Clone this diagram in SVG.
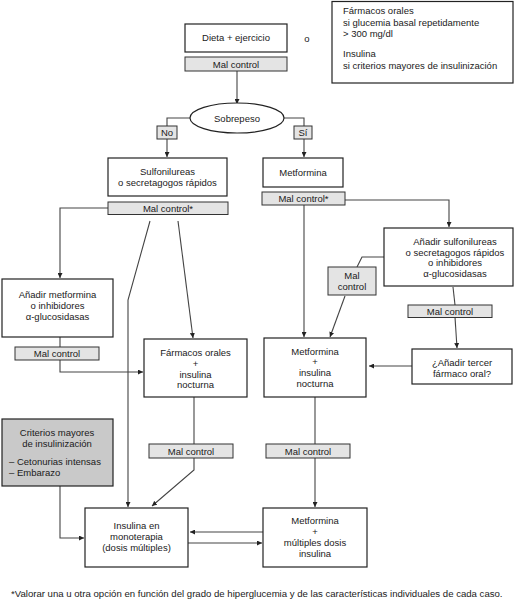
<svg xmlns="http://www.w3.org/2000/svg" width="515" height="600" viewBox="0 0 515 600">
<style>
text{font-family:"Liberation Sans",Arial,sans-serif;font-size:9.5px;fill:#1a1a1a;text-anchor:middle}
.l{text-anchor:start}
.box{fill:#fff;stroke:#222;stroke-width:1.2}
.mc{fill:#e4e4e4;stroke:#333;stroke-width:1}
.dk{fill:#c9c9c9;stroke:#222;stroke-width:1.2}
.c{fill:none;stroke:#444;stroke-width:1.1}
.fn{font-size:9.6px}
</style>
<defs>
<marker id="a" viewBox="0 0 10 10" refX="10" refY="5" markerWidth="5" markerHeight="5" orient="auto" markerUnits="userSpaceOnUse">
<path d="M0,0 L10,5 L0,10 z" fill="#222"/>
</marker>
</defs>
<g id="connectors">
<path class="c" d="M237,71 V104" marker-end="url(#a)"/>
<path class="c" d="M190,118 H167 V157" marker-end="url(#a)"/>
<path class="c" d="M284,118 H304 V157" marker-end="url(#a)"/>
<path class="c" d="M108,208 H60 V278" marker-end="url(#a)"/>
<path class="c" d="M150,221 L128,300 V507" marker-end="url(#a)"/>
<path class="c" d="M178,221 L193,338" marker-end="url(#a)"/>
<path class="c" d="M60,337 V347"/>
<path class="c" d="M60,360 V372 H143" marker-end="url(#a)"/>
<path class="c" d="M345,200 H449 V227" marker-end="url(#a)"/>
<path class="c" d="M304,205 V337" marker-end="url(#a)"/>
<path class="c" d="M384,257 H362 L357,267"/>
<path class="c" d="M345,296 L330,337" marker-end="url(#a)"/>
<path class="c" d="M453,287 L455,305"/>
<path class="c" d="M455,317 L457,348" marker-end="url(#a)"/>
<path class="c" d="M412,366 H369" marker-end="url(#a)"/>
<path class="c" d="M194,397 V444"/>
<path class="c" d="M194,458 V470 L152,506" marker-end="url(#a)"/>
<path class="c" d="M315,397 V444"/>
<path class="c" d="M315,458 V507" marker-end="url(#a)"/>
<path class="c" d="M60,486 V538 H84" marker-end="url(#a)"/>
<path class="c" d="M263,532 H190" marker-end="url(#a)"/>
<path class="c" d="M188,543 H262" marker-end="url(#a)"/>
</g>
<g id="dieta"><rect class="box" x="185" y="24" width="102" height="28"/><text x="236" y="41">Dieta + ejercicio</text></g>
<g id="mc-top"><rect class="mc" x="185" y="57" width="102" height="14"/><text x="236" y="67.5">Mal control</text></g>
<g id="o"><text x="307" y="42">o</text></g>
<g id="alt">
<rect class="box" x="332" y="1.5" width="181" height="81.5"/>
<text class="l" x="343" y="14">Fármacos orales</text>
<text class="l" x="343" y="26">si glucemia basal repetidamente</text>
<text class="l" x="343" y="37">&gt; 300 mg/dl</text>
<text class="l" x="343" y="57">Insulina</text>
<text class="l" x="343" y="69">si criterios mayores de insulinización</text>
</g>
<g id="sobrepeso"><ellipse cx="237" cy="118" rx="47" ry="15" fill="#fff" stroke="#222" stroke-width="1.2"/><text x="237" y="121.5">Sobrepeso</text></g>
<g id="no"><rect class="mc" x="157" y="126" width="20" height="13"/><text x="167" y="136">No</text></g>
<g id="si"><rect class="mc" x="294" y="126" width="18" height="13"/><text x="303" y="136">Sí</text></g>
<g id="sulfo"><rect class="box" x="108" y="158" width="119" height="38"/><text x="167.5" y="175">Sulfonilureas</text><text x="167.5" y="186">o secretagogos rápidos</text></g>
<g id="mc-sulfo"><rect class="mc" x="108" y="202" width="120" height="12.5"/><text x="168" y="212">Mal control*</text></g>
<g id="metf"><rect class="box" x="263" y="158" width="80" height="29"/><text x="303" y="175.5">Metformina</text></g>
<g id="mc-metf"><rect class="mc" x="262" y="192" width="83" height="13"/><text x="303.5" y="202">Mal control*</text></g>
<g id="add-metf"><rect class="box" x="2" y="279" width="111" height="58"/><text x="57.5" y="298">Añadir metformina</text><text x="57.5" y="309">o inhibidores</text><text x="57.5" y="320">α-glucosidasas</text></g>
<g id="mc-addmetf"><rect class="mc" x="15" y="347" width="84" height="13"/><text x="57" y="357">Mal control</text></g>
<g id="add-sulf"><rect class="box" x="384" y="228" width="129" height="58"/><text x="455" y="245">Añadir sulfonilureas</text><text x="455" y="255.5">o secretagogos rápidos</text><text x="455" y="266">o inhibidores</text><text x="455" y="276.5">α-glucosidasas</text></g>
<g id="mc-2l"><rect class="mc" x="328" y="267" width="48" height="28"/><text x="352" y="279">Mal</text><text x="352" y="290">control</text></g>
<g id="mc-addsulf"><rect class="mc" x="408" y="305" width="84" height="12.5"/><text x="450" y="315">Mal control</text></g>
<g id="tercer"><rect class="box" x="412" y="349" width="100" height="35"/><text x="462" y="366">¿Añadir tercer</text><text x="462" y="376.5">fármaco oral?</text></g>
<g id="farm-ins"><rect class="box" x="144" y="339" width="103" height="58"/><text x="195.5" y="356">Fármacos orales</text><text x="195.5" y="367">+</text><text x="195.5" y="377.5">insulina</text><text x="195.5" y="388">nocturna</text></g>
<g id="metf-ins"><rect class="box" x="264" y="338" width="102" height="59"/><text x="315" y="354.5">Metformina</text><text x="315" y="365">+</text><text x="315" y="376">insulina</text><text x="315" y="386.5">nocturna</text></g>
<g id="mc-farmins"><rect class="mc" x="149" y="444" width="84" height="14"/><text x="191" y="454.5">Mal control</text></g>
<g id="mc-metfins"><rect class="mc" x="266" y="444" width="84" height="14"/><text x="308" y="454.5">Mal control</text></g>
<g id="criterios"><rect class="dk" x="2" y="419" width="111" height="67"/><text x="57" y="436">Criterios mayores</text><text x="57" y="446.5">de insulinización</text><text class="l" x="9" y="464.5">– Cetonurias intensas</text><text class="l" x="9" y="475.5">– Embarazo</text></g>
<g id="ins-mono"><rect class="box" x="85" y="508" width="103" height="59"/><text x="136.5" y="529">Insulina en</text><text x="136.5" y="540">monoterapia</text><text x="136.5" y="550.5">(dosis múltiples)</text></g>
<g id="metf-mult"><rect class="box" x="263" y="508" width="104" height="59"/><text x="315" y="524">Metformina</text><text x="315" y="535">+</text><text x="315" y="546">múltiples dosis</text><text x="315" y="556.5">insulina</text></g>
<text class="l fn" x="11" y="597">*Valorar una u otra opción en función del grado de hiperglucemia y de las características individuales de cada caso.</text>
</svg>
